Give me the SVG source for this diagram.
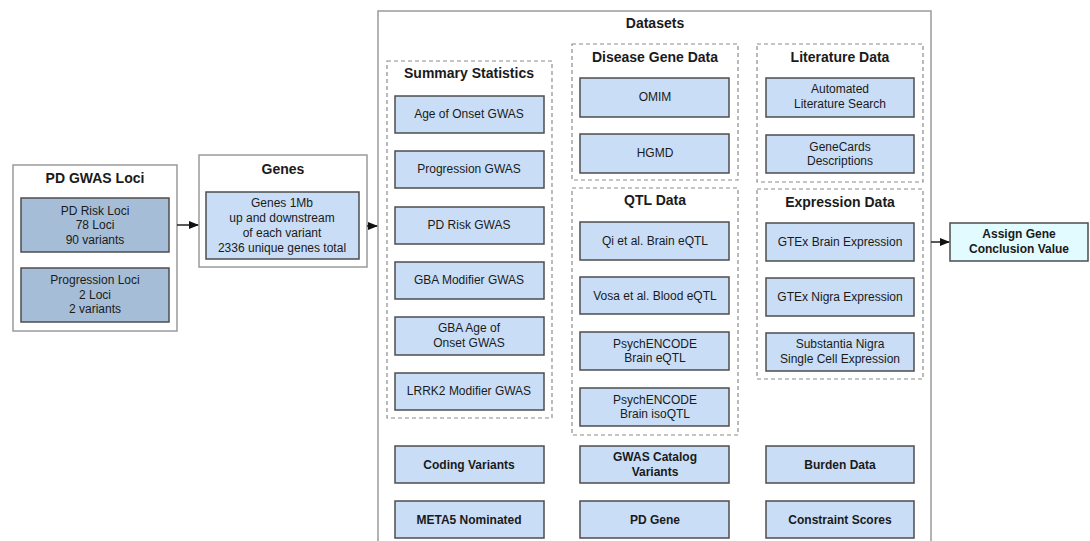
<svg xmlns="http://www.w3.org/2000/svg" width="1090" height="541" viewBox="0 0 1090 541">
<style>
text{font-family:"Liberation Sans",Arial,sans-serif;fill:#1a1a1a;text-anchor:middle;dominant-baseline:central}
.t{font-size:14px;font-weight:bold}
.n{font-size:12px}
.b{font-size:12px;font-weight:bold}
.outer{fill:#fff;stroke:#9a9a9a;stroke-width:1.5}
.dash{fill:none;stroke:#8c8c8c;stroke-width:1.2;stroke-dasharray:4 3}
.box{fill:#c9def6;stroke:#4d4d4d;stroke-width:1.5}
.dark{fill:#a6bdd7;stroke:#4d4d4d;stroke-width:1.5}
.res{fill:#e2fbfe;stroke:#4d4d4d;stroke-width:1.5}
.edge{stroke:#222;stroke-width:1.5;fill:none;marker-end:url(#ah)}
</style>
<defs>
<marker id="ah" markerWidth="10" markerHeight="8" refX="9" refY="4" orient="auto" markerUnits="userSpaceOnUse">
<path d="M0,0 L10,4 L0,8 Z" fill="#111"/>
</marker>
</defs>
<rect width="1090" height="541" fill="#fff"/>

<g id="pd-gwas-loci">
<rect class="outer" x="13" y="165" width="164" height="166"/>
<text class="t" x="95" y="178">PD GWAS Loci</text>
<g id="pd-risk-loci">
<rect class="dark" x="21" y="198" width="148" height="54"/>
<text class="n" x="95" y="211">PD Risk Loci</text>
<text class="n" x="95" y="225">78 Loci</text>
<text class="n" x="95" y="240">90 variants</text>
</g>
<g id="progression-loci">
<rect class="dark" x="21" y="268" width="148" height="54"/>
<text class="n" x="95" y="280">Progression Loci</text>
<text class="n" x="95" y="295">2 Loci</text>
<text class="n" x="95" y="309">2 variants</text>
</g>
</g>

<g id="genes">
<rect class="outer" x="199" y="155" width="168" height="112"/>
<text class="t" x="283" y="169">Genes</text>
<g id="genes-1mb">
<rect class="box" x="206" y="192" width="153" height="67"/>
<text class="n" x="282" y="203">Genes 1Mb</text>
<text class="n" x="282" y="218">up and downstream</text>
<text class="n" x="282" y="233">of each variant</text>
<text class="n" x="282" y="248">2336 unique genes total</text>
</g>
</g>

<g id="datasets">
<rect class="outer" x="378" y="11" width="553" height="540"/>
<text class="t" x="655" y="23">Datasets</text>

<g id="summary-statistics">
<rect class="dash" x="387" y="61" width="165" height="357"/>
<text class="t" x="469" y="73">Summary Statistics</text>
<g id="age-of-onset-gwas"><rect class="box" x="395" y="96" width="149" height="37"/><text class="n" x="469" y="114">Age of Onset GWAS</text></g>
<g id="progression-gwas"><rect class="box" x="395" y="151" width="149" height="37"/><text class="n" x="469" y="169">Progression GWAS</text></g>
<g id="pd-risk-gwas"><rect class="box" x="395" y="207" width="149" height="37"/><text class="n" x="469" y="225">PD Risk GWAS</text></g>
<g id="gba-modifier-gwas"><rect class="box" x="395" y="262" width="149" height="37"/><text class="n" x="469" y="280">GBA Modifier GWAS</text></g>
<g id="gba-age-of-onset-gwas"><rect class="box" x="395" y="317" width="149" height="38"/><text class="n" x="469" y="328">GBA Age of</text><text class="n" x="469" y="343">Onset GWAS</text></g>
<g id="lrrk2-modifier-gwas"><rect class="box" x="395" y="373" width="149" height="37"/><text class="n" x="469" y="391">LRRK2 Modifier GWAS</text></g>
</g>

<g id="disease-gene-data">
<rect class="dash" x="572" y="44" width="166" height="136"/>
<text class="t" x="655" y="57">Disease Gene Data</text>
<g id="omim"><rect class="box" x="580" y="78" width="149" height="39"/><text class="n" x="655" y="97">OMIM</text></g>
<g id="hgmd"><rect class="box" x="580" y="134" width="149" height="39"/><text class="n" x="655" y="153">HGMD</text></g>
</g>

<g id="qtl-data">
<rect class="dash" x="572" y="188" width="166" height="247"/>
<text class="t" x="655" y="200">QTL Data</text>
<g id="qi-brain-eqtl"><rect class="box" x="580" y="222" width="149" height="38"/><text class="n" x="655" y="241">Qi et al. Brain eQTL</text></g>
<g id="vosa-blood-eqtl"><rect class="box" x="580" y="277" width="149" height="37"/><text class="n" x="655" y="296">Vosa et al. Blood eQTL</text></g>
<g id="psychencode-eqtl"><rect class="box" x="580" y="332" width="149" height="38"/><text class="n" x="655" y="344">PsychENCODE</text><text class="n" x="655" y="358">Brain eQTL</text></g>
<g id="psychencode-isoqtl"><rect class="box" x="580" y="388" width="149" height="38"/><text class="n" x="655" y="400">PsychENCODE</text><text class="n" x="655" y="414">Brain isoQTL</text></g>
</g>

<g id="literature-data">
<rect class="dash" x="757" y="44" width="166" height="138"/>
<text class="t" x="840" y="57">Literature Data</text>
<g id="automated-literature-search"><rect class="box" x="766" y="78" width="148" height="39"/><text class="n" x="840" y="89">Automated</text><text class="n" x="840" y="104">Literature Search</text></g>
<g id="genecards"><rect class="box" x="766" y="135" width="148" height="38"/><text class="n" x="840" y="147">GeneCards</text><text class="n" x="840" y="161">Descriptions</text></g>
</g>

<g id="expression-data">
<rect class="dash" x="757" y="189" width="166" height="190"/>
<text class="t" x="840" y="202">Expression Data</text>
<g id="gtex-brain"><rect class="box" x="766" y="223" width="148" height="38"/><text class="n" x="840" y="242">GTEx Brain Expression</text></g>
<g id="gtex-nigra"><rect class="box" x="766" y="278" width="148" height="38"/><text class="n" x="840" y="297">GTEx Nigra Expression</text></g>
<g id="sn-single-cell"><rect class="box" x="766" y="333" width="148" height="38"/><text class="n" x="840" y="344">Substantia Nigra</text><text class="n" x="840" y="359">Single Cell Expression</text></g>
</g>

<g id="coding-variants"><rect class="box" x="395" y="446" width="149" height="37"/><text class="b" x="469" y="465">Coding Variants</text></g>
<g id="gwas-catalog-variants"><rect class="box" x="580" y="446" width="149" height="37"/><text class="b" x="655" y="457">GWAS Catalog</text><text class="b" x="655" y="472">Variants</text></g>
<g id="burden-data"><rect class="box" x="766" y="446" width="148" height="37"/><text class="b" x="840" y="465">Burden Data</text></g>
<g id="meta5-nominated"><rect class="box" x="395" y="501" width="149" height="37"/><text class="b" x="469" y="520">META5 Nominated</text></g>
<g id="pd-gene"><rect class="box" x="580" y="501" width="149" height="37"/><text class="b" x="655" y="520">PD Gene</text></g>
<g id="constraint-scores"><rect class="box" x="766" y="501" width="148" height="37"/><text class="b" x="840" y="520">Constraint Scores</text></g>
</g>

<g id="assign-gene-conclusion-value">
<rect class="res" x="950" y="223" width="138" height="38"/>
<text class="b" x="1019" y="234">Assign Gene</text>
<text class="b" x="1019" y="249">Conclusion Value</text>
</g>

<g id="connectors">
<line class="edge" x1="177" y1="225" x2="198" y2="225"/>
<line class="edge" x1="367" y1="226" x2="377" y2="226"/>
<line class="edge" x1="931" y1="242" x2="949" y2="242"/>
</g>
</svg>
